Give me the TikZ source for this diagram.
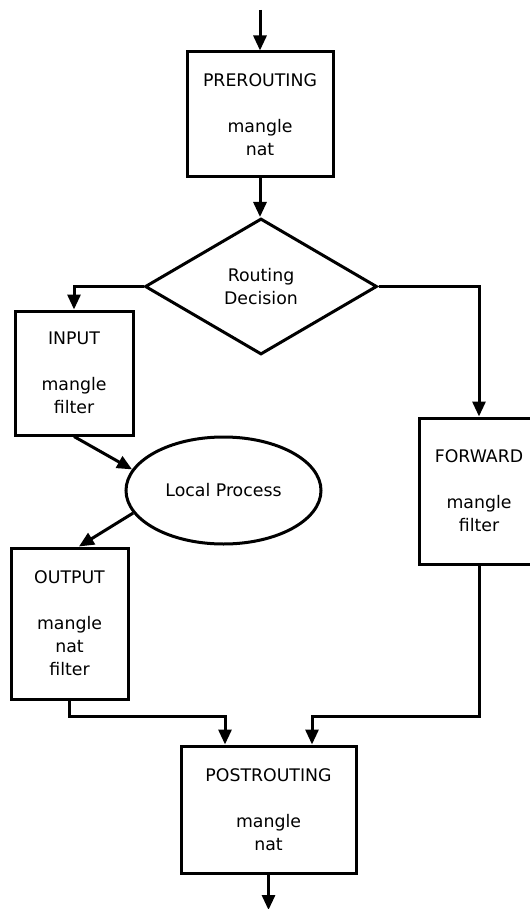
\documentclass[tikz,border=0pt]{standalone}
\usepackage{fontspec}
\setmainfont{DejaVu Sans}
\usetikzlibrary{shapes.geometric,arrows.meta,calc}
\def\pxu{0.75pt}
\tikzset{
  box/.style={draw, line width=2.25pt, rectangle, align=center, inner sep=0pt,
    font=\fontsize{13}{17.25}\selectfont},
  arr/.style={draw, line width=2.25pt, -{Triangle[length=11.25pt,width=9.75pt]}},
  plain/.style={draw, line width=2.25pt}
}
\begin{document}
\begin{tikzpicture}[x=0.75pt,y=-0.75pt]
\path[use as bounding box] (0,0) rectangle (530,909);
\clip (0,0) rectangle (530,909);
\fill[white] (0,0) rectangle (530,909);

\node[box, minimum width=146*\pxu, minimum height=125*\pxu] (pre) at (260,114.5)
  {PREROUTING\\[17.25pt]mangle\\nat};
\node[box, shape=diamond, minimum width=232*\pxu, minimum height=136*\pxu] (dec) at (261,286.5)
  {Routing\\Decision};
\node[box, minimum width=118*\pxu, minimum height=124*\pxu] (in) at (74,373)
  {INPUT\\[17.25pt]mangle\\filter};
\node[box, minimum width=120*\pxu, minimum height=146*\pxu] (fwd) at (479,491)
  {FORWARD\\[17.25pt]mangle\\filter};
\node[box, shape=ellipse, minimum width=195*\pxu, minimum height=107*\pxu] (lp) at (223.5,490.5)
  {Local Process};
\node[box, minimum width=117*\pxu, minimum height=151*\pxu] (out) at (69.5,623.5)
  {OUTPUT\\[17.25pt]mangle\\nat\\filter};
\node[box, minimum width=175*\pxu, minimum height=127*\pxu] (post) at (268.5,809.5)
  {POSTROUTING\\[17.25pt]mangle\\nat};

\coordinate (start) at (260,10);
\coordinate (finish) at (268.5,910);

\draw[arr] (start) -- (pre.north);
\draw[arr] (pre.south) -- (pre.south |- dec.north);
\draw[arr] (dec.west) -| (in.north);
\draw[arr] (dec.east) -| (fwd.north);
\draw[arr] (in.south) -- (lp.167);
\draw[arr] (lp.194) -- (out.83.6);
\draw[arr] (out.south) -- ++(0,15.5) -| ([xshift=-32.625pt]post.north);
\draw[arr] (fwd.south) -- ++(0,150.5) -| ([xshift=32.625pt]post.north);
\draw[arr] (post.south) -- (finish);
\end{tikzpicture}
\end{document}
